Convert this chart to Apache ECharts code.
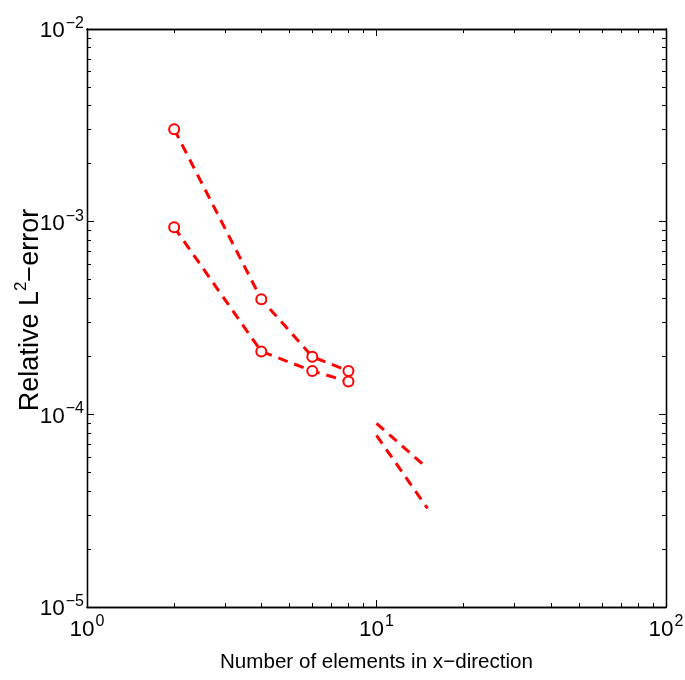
<!DOCTYPE html>
<html>
<head>
<meta charset="utf-8">
<script src="https://cdn.jsdelivr.net/npm/echarts@6/dist/echarts.min.js"></script>
<style>html,body{margin:0;padding:0;background:#fff;}#c{width:685px;height:680px;}</style>
</head>
<body>
<div id="c"></div>
<script>
// Data
const xCoarse = [2, 4, 6, 8];
const upperCoarse = [3.02e-3, 3.96e-4, 1.99e-4, 1.68e-4];
const lowerCoarse = [9.36e-4, 2.12e-4, 1.68e-4, 1.48e-4];
const xFine = [10, 15];
const upperFine = [8.98e-5, 5.24e-5];
const lowerFine = [7.78e-5, 3.25e-5];
const xMajorTicks = [1, 10, 100];
const xMinorTicks = [2,3,4,5,6,7,8,9,20,30,40,50,60,70,80,90];
const yMajorTicks = [1e-5, 1e-4, 1e-3, 1e-2];
const yMinorTicks = [];
[1e-5, 1e-4, 1e-3].forEach(d => { for (let k = 2; k <= 9; k++) yMinorTicks.push(d * k); });

const FONT = 'Liberation Sans, Arial, Helvetica, sans-serif';
const RED = '#ff0000';

function pair(xs, ys) { return xs.map((x, i) => [x, ys[i]]); }
function expLabel(v) {
  const e = Math.round(Math.log10(v));
  return '{b|10}{s|' + (e < 0 ? '\u2212' + (-e) : e) + '}';
}
const labelRich = {
  b: { fontSize: 22.5, fontFamily: FONT, color: '#000', verticalAlign: 'bottom', lineHeight: 27 },
  s: { fontSize: 16, fontFamily: FONT, color: '#000', verticalAlign: 'top', padding: [0, 0, 0, 1] }
};

function mkAxis(pos, min, max, ticks, len, extra) {
  return Object.assign({
    type: 'log', logBase: 10, position: pos, min: min, max: max,
    splitLine: { show: false },
    axisLine: { show: true, onZero: false, lineStyle: { color: '#000', width: 1.3 } },
    axisTick: { show: true, inside: true, length: len, customValues: ticks, lineStyle: { color: '#000', width: 1 } },
    axisLabel: { show: false },
    minorTick: { show: false },
    nameMoveOverlap: false
  }, extra || {});
}

const xAxes = [
  mkAxis('bottom', 1, 100, xMajorTicks, 7, {
    axisLabel: { show: true, customValues: xMajorTicks, formatter: expLabel, rich: labelRich, margin: 7 },
    name: 'Number of elements in x\u2212direction', nameLocation: 'middle', nameGap: 45,
    nameTextStyle: { fontSize: 20.6, fontFamily: FONT, color: '#000' }
  }),
  mkAxis('bottom', 1, 100, xMinorTicks, 4),
  mkAxis('top', 1, 100, xMajorTicks, 7),
  mkAxis('top', 1, 100, xMinorTicks, 4)
];
const yAxes = [
  mkAxis('left', 1e-5, 1e-2, yMajorTicks, 7, {
    axisLabel: { show: true, customValues: yMajorTicks, formatter: expLabel, rich: labelRich, margin: 3 },
    name: '{n|Relative L}{p|2}{n|\u2212error}', nameLocation: 'middle', nameGap: 43,
    nameTextStyle: { fontSize: 27, fontFamily: FONT, color: '#000', padding: [0, 0, 0, 16],
      rich: { n: { fontSize: 27, fontFamily: FONT, color: '#000', verticalAlign: 'bottom', lineHeight: 31 },
              p: { fontSize: 17, fontFamily: FONT, color: '#000', verticalAlign: 'top' } } }
  }),
  mkAxis('left', 1e-5, 1e-2, yMinorTicks, 4),
  mkAxis('right', 1e-5, 1e-2, yMajorTicks, 7),
  mkAxis('right', 1e-5, 1e-2, yMinorTicks, 4)
];

const lineStyle = { color: RED, width: 3, type: [10, 7] };
function mkSeries(data, withMarkers) {
  return {
    type: 'line', xAxisIndex: 0, yAxisIndex: 0, data: data,
    symbol: withMarkers ? 'emptyCircle' : 'none', symbolSize: 10,
    showSymbol: withMarkers,
    itemStyle: { color: RED, borderColor: RED, borderWidth: 3 },
    lineStyle: lineStyle, animation: false, silent: true
  };
}

const chart = echarts.init(document.getElementById('c'), null, { renderer: 'canvas' });
chart.setOption({
  backgroundColor: '#fff',
  animation: false,
  grid: { left: 87, right: 19, top: 29, bottom: 73, containLabel: false, outerBoundsMode: 'none' },
  xAxis: xAxes,
  yAxis: yAxes,
  series: [
    mkSeries(pair(xCoarse, upperCoarse), true),
    mkSeries(pair(xCoarse, lowerCoarse), true),
    mkSeries(pair(xFine, upperFine), false),
    mkSeries(pair(xFine, lowerFine), false)
  ]
});
</script>
</body>
</html>
